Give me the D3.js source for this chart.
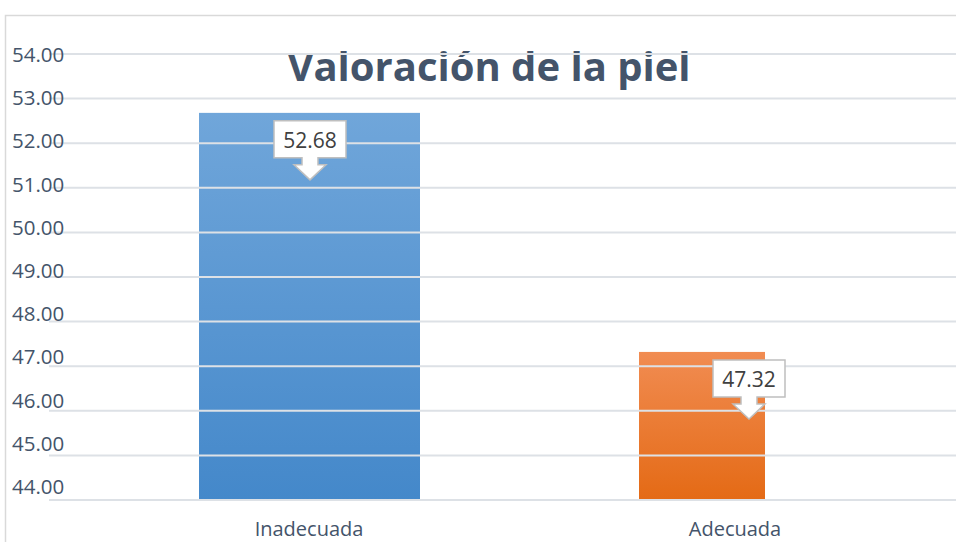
<!DOCTYPE html>
<html>
<head>
<meta charset="utf-8">
<script src="https://cdn.jsdelivr.net/npm/d3@7"></script>
<style>
  body { margin: 0; background: #fff; }
  svg { display: block; }
  text { font-family: "Open Sans", "Noto Sans", sans-serif; }
</style>
</head>
<body>
<svg id="chart" width="956" height="542"></svg>
<script>
// data
const categories = ["Inadecuada", "Adecuada"];
const values = [52.68, 47.32];
const yTicks = [44, 45, 46, 47, 48, 49, 50, 51, 52, 53, 54];
const title = "Valoración de la piel";

const svg = d3.select("#chart");

const x = d3.scaleBand()
  .domain(categories)
  .range([96, 948]);

const y = d3.scaleLinear()
  .domain([44, 54])
  .range([500, 54]);

// the tick labels in the picture are packed a little tighter than the grid
const yLabel = d3.scaleLinear()
  .domain([44, 54])
  .range([487, 55]);

// gradients
const defs = svg.append("defs");
const grads = [
  {id: "gBlue", top: "#70a6da", bottom: "#4488ca"},
  {id: "gOrange", top: "#f18c52", bottom: "#e46a15"}
];
grads.forEach(g => {
  const lg = defs.append("linearGradient")
    .attr("id", g.id)
    .attr("x1", 0).attr("y1", 0).attr("x2", 0).attr("y2", 1);
  lg.append("stop").attr("offset", "0%").attr("stop-color", g.top);
  lg.append("stop").attr("offset", "100%").attr("stop-color", g.bottom);
});

// chart frame
svg.append("path")
  .attr("d", "M5.5,542 V15.5 H956")
  .attr("fill", "none")
  .attr("stroke", "#d9d9d9")
  .attr("stroke-width", 1.5);

// title (sits under the top gridline, like the picture)
svg.append("text")
  .attr("x", 489)
  .attr("y", 81)
  .attr("text-anchor", "middle")
  .attr("font-size", 40)
  .attr("font-weight", "bold")
  .attr("fill", "#44546a")
  .text(title);

// bars (the picture has them unevenly stretched)
const barSpan = {Inadecuada: [-110, 111], Adecuada: [-96, 30]};
const center = d => x(d) + x.bandwidth() / 2;

svg.append("g")
  .selectAll("rect")
  .data(categories)
  .enter()
  .append("rect")
  .attr("x", d => center(d) + barSpan[d][0])
  .attr("width", d => barSpan[d][1] - barSpan[d][0])
  .attr("y", (d, i) => y(values[i]))
  .attr("height", (d, i) => y(44) - y(values[i]))
  .attr("fill", (d, i) => i === 0 ? "url(#gBlue)" : "url(#gOrange)");

// gridlines over bars
svg.append("g")
  .selectAll("line")
  .data(yTicks)
  .enter()
  .append("line")
  .attr("x1", 49)
  .attr("x2", 956)
  .attr("y1", d => y(d))
  .attr("y2", d => y(d))
  .attr("stroke", "#dde1e6")
  .attr("stroke-width", 2);

// y tick labels
svg.append("g")
  .selectAll("text")
  .data(yTicks)
  .enter()
  .append("text")
  .attr("x", 12)
  .attr("y", d => yLabel(d) + 7)
  .attr("font-size", 20.5)
  .attr("fill", "#44546a")
  .text(d => d3.format(".2f")(d));

// category labels
svg.append("g")
  .selectAll("text")
  .data(categories)
  .enter()
  .append("text")
  .attr("x", d => center(d))
  .attr("y", 536)
  .attr("text-anchor", "middle")
  .attr("font-size", 20)
  .attr("fill", "#44546a")
  .text(d => d);

// callouts
const calloutShift = {Inadecuada: 1, Adecuada: 14};
const callout = svg.append("g")
  .selectAll("g")
  .data(categories)
  .enter()
  .append("g")
  .attr("transform", (d, i) =>
    `translate(${center(d) + calloutShift[d]},${y(values[i]) + 8})`);

callout.append("path")
  .attr("d", "M-36,0 H36 V37 H8 V44 H16 L0,59 L-16,44 H-8 V37 H-36 Z")
  .attr("fill", "#fff")
  .attr("stroke", "#bfbfbf")
  .attr("stroke-width", 1.5);

callout.append("text")
  .attr("x", 0)
  .attr("y", 27)
  .attr("text-anchor", "middle")
  .attr("font-size", 21)
  .attr("fill", "#404040")
  .text((d, i) => d3.format(".2f")(values[i]));
</script>
</body>
</html>
